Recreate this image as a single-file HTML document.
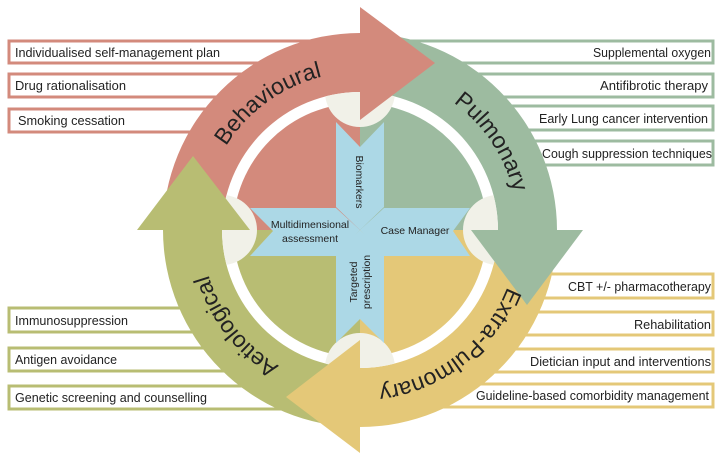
<!DOCTYPE html>
<html><head><meta charset="utf-8"><style>
html,body{margin:0;padding:0;background:#fff;}
svg{display:block;}
text{font-family:"Liberation Sans Narrow","Liberation Sans",sans-serif;fill:#222;}
</style></head><body>
<svg width="721" height="458" viewBox="0 0 721 458" xmlns="http://www.w3.org/2000/svg">
<defs>
<clipPath id="inner"><circle cx="360" cy="230" r="138"/></clipPath>
<path id="tp" d="M202,230 A158,158 0 1 1 518,230 A158,158 0 1 1 202,230"/>
</defs>
<rect width="721" height="458" fill="#fff"/>
<!-- boxes -->
<g fill="#fff" stroke-width="3">
<rect x="9" y="41" width="321" height="22" stroke="#d38a7c"/>
<rect x="9" y="74" width="321" height="23" stroke="#d38a7c"/>
<rect x="9" y="109" width="321" height="23" stroke="#d38a7c"/>
<rect x="9" y="308" width="321" height="24" stroke="#b8bd73"/>
<rect x="9" y="348" width="321" height="23" stroke="#b8bd73"/>
<rect x="9" y="386" width="321" height="23" stroke="#b8bd73"/>
<rect x="390" y="41" width="323" height="22" stroke="#9dbba0"/>
<rect x="390" y="74" width="323" height="23" stroke="#9dbba0"/>
<rect x="390" y="106" width="323" height="24" stroke="#9dbba0"/>
<rect x="390" y="141" width="323" height="24" stroke="#9dbba0"/>
<rect x="390" y="274" width="323" height="24" stroke="#e4c878"/>
<rect x="390" y="312" width="323" height="23" stroke="#e4c878"/>
<rect x="390" y="349" width="323" height="23" stroke="#e4c878"/>
<rect x="390" y="384" width="323" height="23" stroke="#e4c878"/>
</g>
<g font-size="13">
<text x="15" y="57" textLength="205" lengthAdjust="spacingAndGlyphs">Individualised self-management plan</text>
<text x="15" y="90" textLength="111" lengthAdjust="spacingAndGlyphs">Drug rationalisation</text>
<text x="18" y="125" textLength="107" lengthAdjust="spacingAndGlyphs">Smoking cessation</text>
<text x="15" y="325" textLength="113" lengthAdjust="spacingAndGlyphs">Immunosuppression</text>
<text x="15" y="364" textLength="102" lengthAdjust="spacingAndGlyphs">Antigen avoidance</text>
<text x="15" y="402" textLength="192" lengthAdjust="spacingAndGlyphs">Genetic screening and counselling</text>
<text x="593" y="57" textLength="118" lengthAdjust="spacingAndGlyphs">Supplemental oxygen</text>
<text x="600" y="90" textLength="108" lengthAdjust="spacingAndGlyphs">Antifibrotic therapy</text>
<text x="539" y="123" textLength="169" lengthAdjust="spacingAndGlyphs">Early Lung cancer intervention</text>
<text x="542" y="158" textLength="170" lengthAdjust="spacingAndGlyphs">Cough suppression techniques</text>
<text x="568" y="291" textLength="143" lengthAdjust="spacingAndGlyphs">CBT +/- pharmacotherapy</text>
<text x="634" y="329" textLength="77" lengthAdjust="spacingAndGlyphs">Rehabilitation</text>
<text x="530" y="366" textLength="181" lengthAdjust="spacingAndGlyphs">Dietician input and interventions</text>
<text x="476" y="400" textLength="233" lengthAdjust="spacingAndGlyphs">Guideline-based comorbidity management</text>
</g>
<!-- inner white -->
<circle cx="360" cy="230" r="140" fill="#fff"/>
<!-- bands -->
<path d="M163,230 A197,197 0 0 1 360,33 L360,92 A138,138 0 0 0 222,230 Z" fill="#d38a7c"/>
<path d="M360,33 A197,197 0 0 1 557,230 L498,230 A138,138 0 0 0 360,92 Z" fill="#9dbba0"/>
<path d="M557,230 A197,197 0 0 1 360,427 L360,368 A138,138 0 0 0 498,230 Z" fill="#e4c878"/>
<path d="M360,427 A197,197 0 0 1 163,230 L222,230 A138,138 0 0 0 360,368 Z" fill="#b8bd73"/>
<!-- pie -->
<path d="M360,230 L233,230 A127,127 0 0 1 360,103 Z" fill="#d38a7c"/>
<path d="M360,230 L360,103 A127,127 0 0 1 487,230 Z" fill="#9dbba0"/>
<path d="M360,230 L487,230 A127,127 0 0 1 360,357 Z" fill="#e4c878"/>
<path d="M360,230 L360,357 A127,127 0 0 1 233,230 Z" fill="#b8bd73"/>
<!-- cream -->
<g clip-path="url(#inner)" fill="#f1f1e8">
<circle cx="360" cy="92" r="35"/>
<circle cx="498" cy="230" r="35"/>
<circle cx="360" cy="368" r="35"/>
<circle cx="222" cy="230" r="35"/>
</g>
<!-- heads -->
<polygon points="360,7 435,63 360,120" fill="#d38a7c"/>
<polygon points="583,230 527,305 471,230" fill="#9dbba0"/>
<polygon points="360,453 286,397 360,340" fill="#e4c878"/>
<polygon points="137,230 193,156 250,230" fill="#b8bd73"/>
<!-- cross -->
<g fill="#acd8e6">
<polygon points="336,122 360,147 384,122 384,207 360,230 336,207"/>
<polygon points="336,343 360,319 384,343 384,254 360,230 336,254"/>
<polygon points="250,208 273,231 250,256 336,256 360,230 336,208"/>
<polygon points="470,208 453,231 470,256 384,256 360,230 384,208"/>
</g>
<g font-size="10.5" text-anchor="middle">
<text transform="translate(356,182) rotate(90)">Biomarkers</text>
<text transform="translate(357,282) rotate(-90)">Targeted</text>
<text transform="translate(370,282) rotate(-90)">prescription</text>
<text x="310" y="228">Multidimensional</text>
<text x="310" y="242">assessment</text>
<text x="415" y="234">Case Manager</text>
</g>
<!-- ring labels -->
<g font-size="23" text-anchor="middle">
<text><textPath href="#tp" startOffset="149">Behavioural</textPath></text>
<text><textPath href="#tp" startOffset="403">Pulmonary</textPath></text>
<text><textPath href="#tp" startOffset="640">Extra-Pulmonary</textPath></text>
<text><textPath href="#tp" startOffset="888">Aetiological</textPath></text>
</g>
</svg>
</body></html>
